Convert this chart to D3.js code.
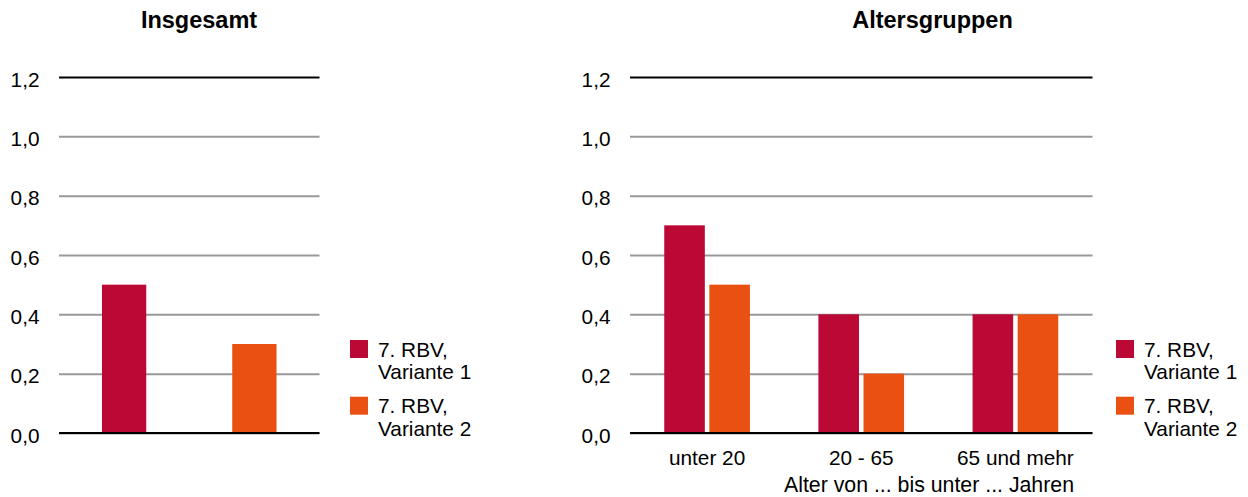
<!DOCTYPE html>
<html>
<head>
<meta charset="utf-8">
<script src="https://cdn.jsdelivr.net/npm/d3@7/dist/d3.min.js"></script>
<style>
  html, body { margin: 0; padding: 0; background: #fff; }
  svg { display: block; }
  text { font-family: "Liberation Sans", Arial, sans-serif; fill: #000; }
</style>
</head>
<body>
<svg id="chart" width="1248" height="497"></svg>
<script>
// ---- data ----
const seriesNames = ["7. RBV, Variante 1", "7. RBV, Variante 2"];
const legendLines = [["7. RBV,", "Variante 1"], ["7. RBV,", "Variante 2"]];
const seriesColors = ["#bb0834", "#e95012"];
const totalValues = [0.5, 0.3];
const ageGroups = ["unter 20", "20 - 65", "65 und mehr"];
const variante1 = [0.7, 0.4, 0.4];
const variante2 = [0.5, 0.2, 0.4];
const yTicks = [0, 0.2, 0.4, 0.6, 0.8, 1.0, 1.2];
const titles = ["Insgesamt", "Altersgruppen"];
const xAxisTitle = "Alter von ... bis unter ... Jahren";

const svg = d3.select("#chart");
const fmt = d => d3.format(".1f")(d).replace(".", ",");
const FS = 20.8;

const y = d3.scaleLinear().domain([0, 1.2]).range([433, 77]);

function drawYAxis(g, x0, x1) {
  const axis = d3.axisLeft(y).tickValues(yTicks).tickFormat(fmt)
    .tickSize(-(x1 - x0)).tickPadding(19.5);
  const ax = g.append("g").attr("transform", `translate(${x0},0)`).call(axis);
  ax.select(".domain").remove();
  ax.selectAll(".tick line")
    .attr("stroke", d => (d === 1.2 ? "#000" : "#999"))
    .attr("stroke-width", 2);
  ax.selectAll(".tick text")
    .attr("font-size", FS)
    .attr("dy", "0.44em")
    .style("font-family", '"Liberation Sans", Arial, sans-serif')
    .attr("fill", "#000");
}

function drawBaseline(g, x0, x1) {
  g.append("line").attr("x1", x0).attr("x2", x1)
    .attr("y1", y(0)).attr("y2", y(0))
    .attr("stroke", "#000").attr("stroke-width", 2);
}

function drawLegend(g, sx, sy) {
  seriesNames.forEach((s, i) => {
    const top = sy + i * 56.7;
    g.append("rect").attr("x", sx).attr("y", top).attr("width", 18).attr("height", 18)
      .attr("fill", seriesColors[i]);
    const t = g.append("text").attr("x", sx + 28).attr("y", top + 16.7).attr("font-size", FS);
    legendLines[i].forEach((ln, j) => {
      t.append("tspan").attr("x", sx + 28).attr("dy", j === 0 ? 0 : 22.6).text(ln);
    });
  });
}

// ---- left chart: Insgesamt ----
{
  const g = svg.append("g");
  const x0 = 59, x1 = 319.5;
  drawYAxis(g, x0, x1);
  const x = d3.scaleBand().domain(seriesNames).range([x0, x1])
    .paddingInner(0.66).paddingOuter(0.33);
  g.selectAll("rect.bar").data(totalValues).enter().append("rect")
    .attr("class", "bar")
    .attr("x", (d, i) => x(seriesNames[i]))
    .attr("width", x.bandwidth())
    .attr("y", d => y(d))
    .attr("height", d => y(0) - y(d))
    .attr("fill", (d, i) => seriesColors[i]);
  drawBaseline(g, x0, x1);
  g.append("text").attr("x", 199).attr("y", 28).attr("text-anchor", "middle")
    .attr("font-size", 23.5).attr("font-weight", "bold").text(titles[0]);
  drawLegend(g, 350, 340);
}

// ---- right chart: Altersgruppen ----
{
  const g = svg.append("g");
  const x0 = 630, x1 = 1092.5;
  drawYAxis(g, x0, x1);
  const xg = d3.scaleBand().domain(ageGroups).range([x0, x1])
    .paddingInner(0.415).paddingOuter(0.2075);
  const xs = d3.scaleBand().domain(seriesNames).range([0, xg.bandwidth()])
    .paddingInner(0.1).paddingOuter(0.05);
  const rows = ageGroups.map((a, i) => ({ group: a, values: [variante1[i], variante2[i]] }));
  const grp = g.selectAll("g.grp").data(rows).enter().append("g")
    .attr("class", "grp")
    .attr("transform", d => `translate(${xg(d.group)},0)`);
  grp.selectAll("rect").data(d => d.values.map((v, i) => ({ s: seriesNames[i], v, i })))
    .enter().append("rect")
    .attr("x", d => xs(d.s))
    .attr("width", xs.bandwidth())
    .attr("y", d => y(d.v))
    .attr("height", d => y(0) - y(d.v))
    .attr("fill", d => seriesColors[d.i]);
  drawBaseline(g, x0, x1);
  const full = d3.scaleBand().domain(ageGroups).range([x0, x1]);
  g.selectAll("text.xl").data(ageGroups).enter().append("text")
    .attr("class", "xl")
    .attr("x", d => full(d) + full.bandwidth() / 2)
    .attr("y", 465).attr("text-anchor", "middle").attr("font-size", FS)
    .text(d => d);
  g.append("text").attr("x", 929).attr("y", 492).attr("text-anchor", "middle")
    .attr("font-size", 21.3).text(xAxisTitle);
  g.append("text").attr("x", 932.5).attr("y", 28).attr("text-anchor", "middle")
    .attr("font-size", 23.5).attr("font-weight", "bold").text(titles[1]);
  drawLegend(g, 1116, 340);
}
</script>
</body>
</html>
